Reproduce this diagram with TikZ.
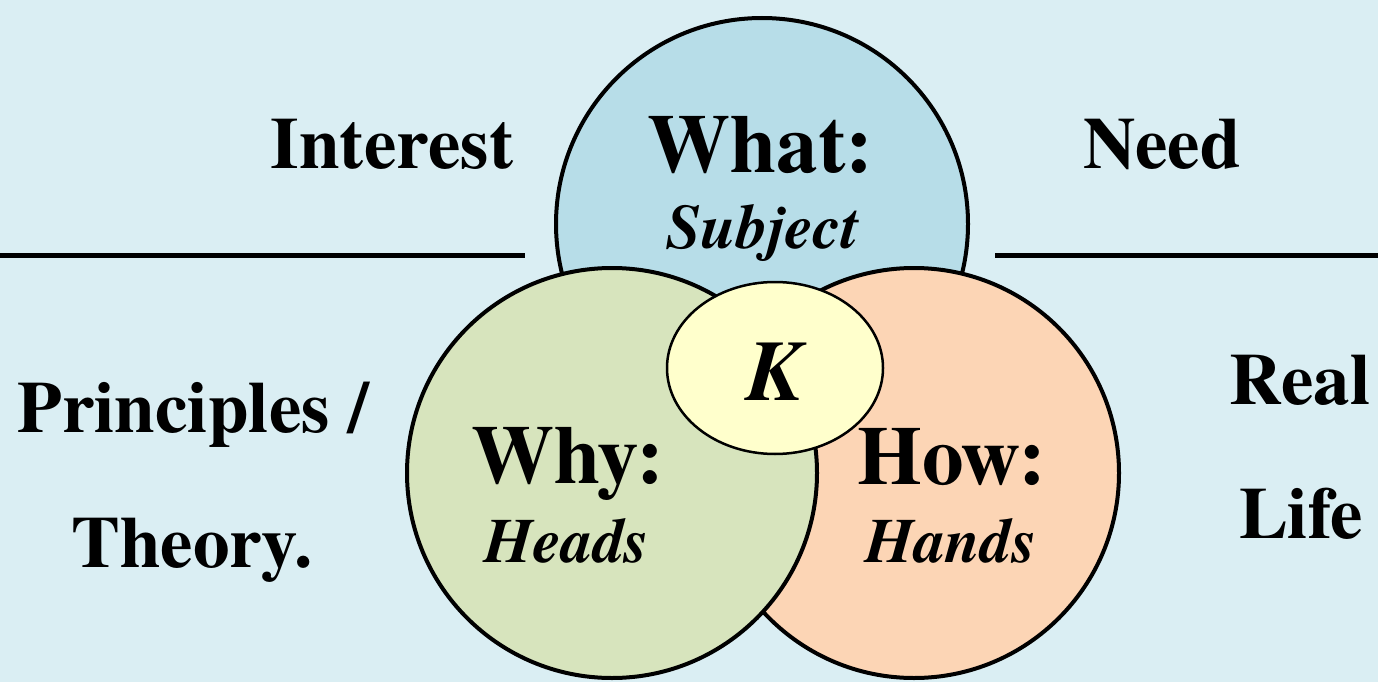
\documentclass[tikz,border=0pt]{standalone}
\usepackage{fontspec}
\setmainfont{texgyretermes}[Extension=.otf, UprightFont=*-regular, BoldFont=*-bold, ItalicFont=*-italic, BoldItalicFont=*-bolditalic]
\usetikzlibrary{shapes.geometric}
\definecolor{bgblue}{HTML}{DAEEF3}
\definecolor{whatblue}{HTML}{B7DDE8}
\definecolor{whygreen}{HTML}{D7E4BD}
\definecolor{howorange}{HTML}{FCD5B5}
\definecolor{kyellow}{HTML}{FFFFCC}
\tikzset{
  ring/.style={circle, draw=black, line width=4pt, inner sep=0pt, minimum size=#1},
  side/.style={anchor=base, inner sep=0pt, font=\fontsize{73}{80}\selectfont\bfseries},
  head/.style={anchor=base, inner sep=0pt, font=\fontsize{83}{90}\selectfont\bfseries},
  sub/.style={anchor=base, inner sep=0pt, font=\fontsize{63}{70}\selectfont\bfseries\itshape},
  kfont/.style={anchor=base, inner sep=0pt, font=\fontsize{86}{90}\selectfont\bfseries\itshape},
  rule/.style={line width=5pt, draw=black}
}
\begin{document}
\begin{tikzpicture}[x=1pt,y=-1pt]
\useasboundingbox (0,0) rectangle (1378,682);
\fill[bgblue] (0,0) rectangle (1378,682);
% horizontal rules
\coordinate (la) at (0,255);
\coordinate (lb) at (525,255);
\coordinate (ra) at (995,255);
\coordinate (rb) at (1378,255);
\draw[rule] (la) -- (lb);
\draw[rule] (ra) -- (rb);
% circles
\node[ring=412pt, fill=whatblue] (what) at (762,224) {};
\node[ring=410pt, fill=howorange] (how) at (914,473) {};
\node[ring=410pt, fill=whygreen] (why) at (612,473) {};
\node[ellipse, draw=black, line width=2.5pt, fill=kyellow, inner sep=0pt,
      minimum width=216pt, minimum height=172pt] (k) at (775,368) {};
% texts
\node[side] (interest) at (392,168) {Interest};
\node[side] (need) at (1162,168) {Need};
\node[side] (principles) at (193,432) {Principles /};
\node[side] (theory) at (192,567) {Theory.};
\node[side] (real) at (1300,404) {Real};
\node[side] (life) at (1301,538) {Life};
\node[head] (whatt) at (760,172) {What:};
\node[sub] (subject) at (763,248) {Subject};
\node[head] (whyt) at (568,483) {Why:};
\node[sub] (heads) at (567,562) {Heads};
\node[head] (howt) at (952,484) {How:};
\node[sub] (hands) at (951,562) {Hands};
\node[kfont] (kt) at (775,400) {K};
\end{tikzpicture}
\end{document}
